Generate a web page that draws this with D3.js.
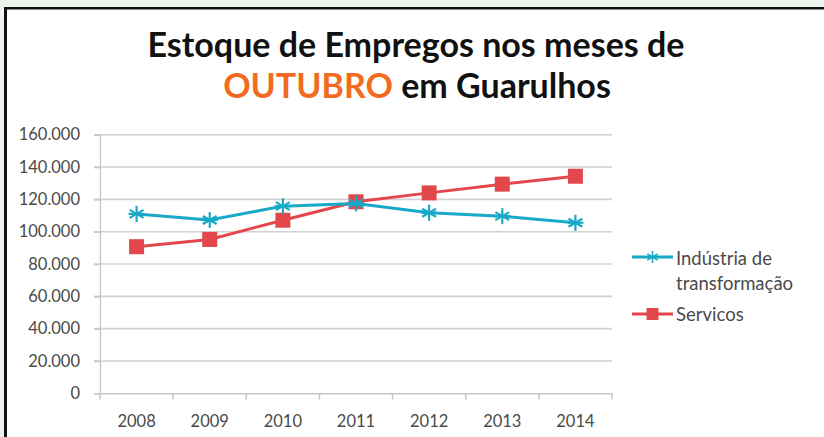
<!DOCTYPE html>
<html><head><meta charset="utf-8">
<script src="https://cdn.jsdelivr.net/npm/d3@7"></script>
<style>
html,body{margin:0;padding:0;background:#eaf3ec;}
svg{display:block;}
</style></head>
<body>
<svg id="c" width="824" height="437"></svg>
<script>
const years = ["2008","2009","2010","2011","2012","2013","2014"];
const industria = [111000, 107200, 115800, 117500, 111700, 109600, 105500];
const servicos = [90700, 95200, 107100, 118500, 124000, 129400, 134300];
const yTicks = [0,20000,40000,60000,80000,100000,120000,140000,160000];
const seriesNames = ["Indústria de|transformação", "Servicos"];
const colors = ["#19a9c8", "#e2474b"];

const svg = d3.select("#c");
// panel
svg.append("rect").attr("x",4).attr("y",7).attr("width",824).attr("height",437).attr("fill","#fff");
svg.append("line").attr("x1",4).attr("x2",824).attr("y1",8.2).attr("y2",8.2).attr("stroke","#111").attr("stroke-width",2.6);
svg.append("line").attr("x1",5.5).attr("x2",5.5).attr("y1",7).attr("y2",437).attr("stroke","#111").attr("stroke-width",3);

const font = "Lato, 'Open Sans', sans-serif";
const txt = "#4a4a4a";
// title
svg.append("text").attr("x",416).attr("y",57).attr("text-anchor","middle")
  .attr("font-family",font).attr("font-weight","bold").attr("font-size",34).attr("fill","#111")
  .text("Estoque de Empregos nos meses de");
const t2 = svg.append("text").attr("x",417).attr("y",98).attr("text-anchor","middle")
  .attr("font-family",font).attr("font-weight","bold").attr("font-size",34).attr("fill","#111");
t2.append("tspan").attr("fill","#f26b21").text("OUTUBRO");
t2.append("tspan").text(" em Guarulhos");

const x = d3.scaleBand().domain(years).range([100,612]);
const y = d3.scaleLinear().domain([0,160000]).range([393.3,134.7]);

// gridlines
svg.append("g").selectAll("line").data(yTicks.filter(d=>d>0)).join("line")
  .attr("x1",94).attr("x2",612).attr("y1",d=>y(d)).attr("y2",d=>y(d))
  .attr("stroke","#d2d2d2").attr("stroke-width",1.6);

const fmt = d => d===0 ? "0" : d3.format(",")(d).replace(/,/g,".");
const yAxis = svg.append("g").attr("transform","translate(100,0)")
  .call(d3.axisLeft(y).tickValues(yTicks).tickFormat(fmt).tickSize(6).tickPadding(6));
yAxis.select(".domain").attr("stroke","#c8c8c8").attr("stroke-width",1.4);
yAxis.selectAll(".tick line").attr("stroke","#c8c8c8").attr("stroke-width",1.6);
yAxis.selectAll("text").attr("font-family",font).attr("font-size",16.5).attr("fill",txt).attr("x",-20);

const xAxis = svg.append("g").attr("transform","translate(0,393.3)")
  .call(d3.axisBottom(x).tickSize(0).tickPadding(0));
xAxis.select(".domain").attr("stroke","#c8c8c8").attr("stroke-width",1.6);
xAxis.selectAll("text").attr("font-family",font).attr("font-size",16.5).attr("fill",txt)
  .attr("dy",null).attr("y",34);
// category boundary ticks
const bounds = years.map(d=>x(d)).concat([x.range()[1]]);
svg.append("g").selectAll("line").data(bounds).join("line")
  .attr("x1",d=>d).attr("x2",d=>d).attr("y1",393.3).attr("y2",399.5)
  .attr("stroke","#c8c8c8").attr("stroke-width",1.6);

const cx = d => x(d) + x.bandwidth()/2;
const line = d3.line().x((d,i)=>cx(years[i])).y(d=>y(d));

// serviços
svg.append("path").datum(servicos).attr("d",line).attr("fill","none")
  .attr("stroke",colors[1]).attr("stroke-width",3);
svg.append("g").selectAll("rect").data(servicos).join("rect")
  .attr("x",(d,i)=>cx(years[i])-7.5).attr("y",d=>y(d)-7.5).attr("width",15).attr("height",15)
  .attr("fill",colors[1]);

// indústria
svg.append("path").datum(industria).attr("d",line).attr("fill","none")
  .attr("stroke",colors[0]).attr("stroke-width",3);
function star(g, r){
  const a = [0,60,120].map(v=>v*Math.PI/180);
  a.forEach(t=>{
    g.append("line").attr("x1",-r*Math.sin(t)).attr("y1",-r*Math.cos(t))
      .attr("x2",r*Math.sin(t)).attr("y2",r*Math.cos(t));
  });
  g.append("line").attr("x1",-r).attr("x2",r).attr("y1",0).attr("y2",0);
}
svg.append("g").selectAll("g").data(industria).join("g")
  .attr("transform",(d,i)=>`translate(${cx(years[i])},${y(d)})`)
  .attr("stroke",colors[0]).attr("stroke-width",2.2)
  .each(function(){ star(d3.select(this), 8); });

// legend
const lg = svg.append("g");
lg.append("line").attr("x1",632).attr("x2",673).attr("y1",257).attr("y2",257).attr("stroke",colors[0]).attr("stroke-width",3);
const sg = lg.append("g").attr("transform","translate(652.5,257)").attr("stroke",colors[0]).attr("stroke-width",1.5);
star(sg,6);
lg.append("line").attr("x1",632).attr("x2",673).attr("y1",314).attr("y2",314).attr("stroke",colors[1]).attr("stroke-width",3);
lg.append("rect").attr("x",646.5).attr("y",308).attr("width",12).attr("height",12).attr("fill",colors[1]);
const l1 = seriesNames[0].split("|");
const lf = 18.5;
lg.append("text").attr("x",676).attr("y",265).attr("font-family",font).attr("font-size",lf).attr("fill",txt).text(l1[0]);
lg.append("text").attr("x",676).attr("y",290).attr("font-family",font).attr("font-size",lf).attr("fill",txt).text(l1[1]);
lg.append("text").attr("x",676).attr("y",321).attr("font-family",font).attr("font-size",lf).attr("fill",txt).text(seriesNames[1]);
</script>
</body></html>
